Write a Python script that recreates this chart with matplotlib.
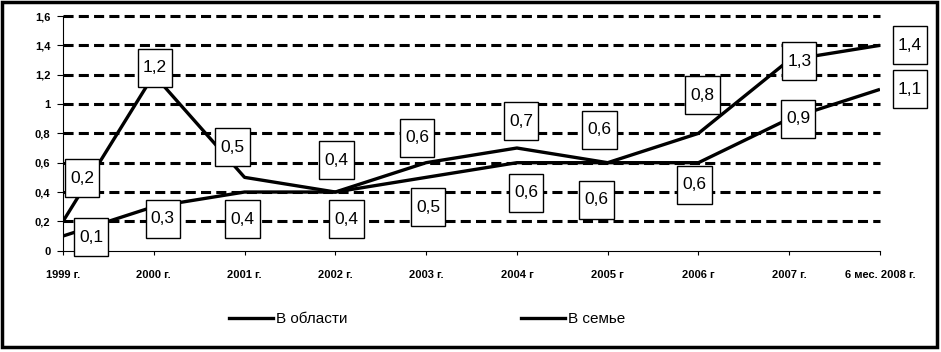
import matplotlib
matplotlib.use("Agg")
import matplotlib.pyplot as plt
from matplotlib.path import Path
from matplotlib.patches import Rectangle
from matplotlib.lines import Line2D

plt.rcParams["font.family"] = ["Liberation Sans", "DejaVu Sans"]

YEARS = ["1999 г.", "2000 г.", "2001 г.", "2002 г.", "2003 г.", "2004 г",
         "2005 г", "2006 г", "2007 г.", "6 мес. 2008 г."]
REGION = [0.2, 1.2, 0.5, 0.4, 0.6, 0.7, 0.6, 0.8, 1.3, 1.4]
FAMILY = [0.1, 0.3, 0.4, 0.4, 0.5, 0.6, 0.6, 0.6, 0.9, 1.1]
SERIES_NAMES = ["В области", "В семье"]
Y_TICKS = [0, 0.2, 0.4, 0.6, 0.8, 1.0, 1.2, 1.4, 1.6]

# label box offsets in pixels (dx, dy) from each point, as placed in the original
REGION_OFFS = [(19, 43), (1, 7), (-12, 30), (1, 32), (-9, 25), (4, 27),
               (-8, 33), (4, 38), (10, -1), (30, 0)]
FAMILY_OFFS = [(28, -1), (9, -12), (-2, -27), (11, -27), (2, -30), (9, -30),
               (-11, -37), (-4, -22), (9, 0), (30, 0)]

W, H = 941, 352
LW = 2.4


def fmt(v):
    s = ("%g" % v).replace(".", ",")
    return s


def tall_box(x0, y0, width, height, mutation_size):
    px = 0.3 * mutation_size
    py = 0.66 * mutation_size
    x0, y0 = x0 - px, y0 - py
    x1, y1 = x0 + width + 2 * px, y0 + height + 2 * py
    verts = [(x0, y0), (x1, y0), (x1, y1), (x0, y1), (x0, y0)]
    codes = [Path.MOVETO, Path.LINETO, Path.LINETO, Path.LINETO, Path.CLOSEPOLY]
    return Path(verts, codes)


fig = plt.figure(figsize=(W / 100, H / 100), dpi=100)
ax = fig.add_axes([63 / W, 1 - 250.7 / H, (880 - 63) / W, (250.7 - 16) / H])

x = list(range(len(YEARS)))

# dashed grid (not at zero)
ax.hlines(Y_TICKS[1:], x[0], x[-1], colors="black", lw=2.2,
          linestyles=(0, (3.3, 1.7)), zorder=1, clip_on=False)

ax.plot(x, REGION, color="black", lw=LW, zorder=3, solid_capstyle="butt")
ax.plot(x, FAMILY, color="black", lw=LW, zorder=3, solid_capstyle="butt")

box = dict(boxstyle=tall_box, facecolor="white", edgecolor="black", lw=1.0)
for vals, offs in ((REGION, REGION_OFFS), (FAMILY, FAMILY_OFFS)):
    for xi, v, (dx, dy) in zip(x, vals, offs):
        ax.annotate(fmt(v), (xi, v), xytext=(dx, dy), textcoords="offset pixels",
                    ha="center", va="center", fontsize=12.5, bbox=box,
                    zorder=5, annotation_clip=False)

ax.set_xlim(x[0], x[-1])
ax.set_ylim(0, 1.6)
ax.set_yticks(Y_TICKS)
ax.set_yticklabels([fmt(v) for v in Y_TICKS], fontweight="bold")
ax.set_xticks(x)
ax.set_xticklabels(YEARS, fontweight="bold")
ax.tick_params(axis="y", length=4, width=0.8, pad=5, labelsize=8)
ax.tick_params(axis="x", length=3, width=0.8, pad=11, labelsize=8)
for s in ("top", "right"):
    ax.spines[s].set_visible(False)
for s in ("left", "bottom"):
    ax.spines[s].set_linewidth(0.8)

# legend, two separate entries as in the original
for name, xpos in zip(SERIES_NAMES, (229, 521)):
    h = Line2D([], [], color="black", lw=LW)
    fig.legend([h], [name], loc="center left", bbox_to_anchor=(xpos / W, 1 - 319 / H),
               frameon=False, fontsize=11, handlelength=2.9, handletextpad=0.2,
               borderpad=0, borderaxespad=0)

# outer frame
fig.add_artist(Rectangle((2 / W, 1 - 347 / H), 935 / W, 345 / H,
                         transform=fig.transFigure, fill=False, lw=2.5,
                         edgecolor="black"))

fig.savefig("out.png", dpi=100)
